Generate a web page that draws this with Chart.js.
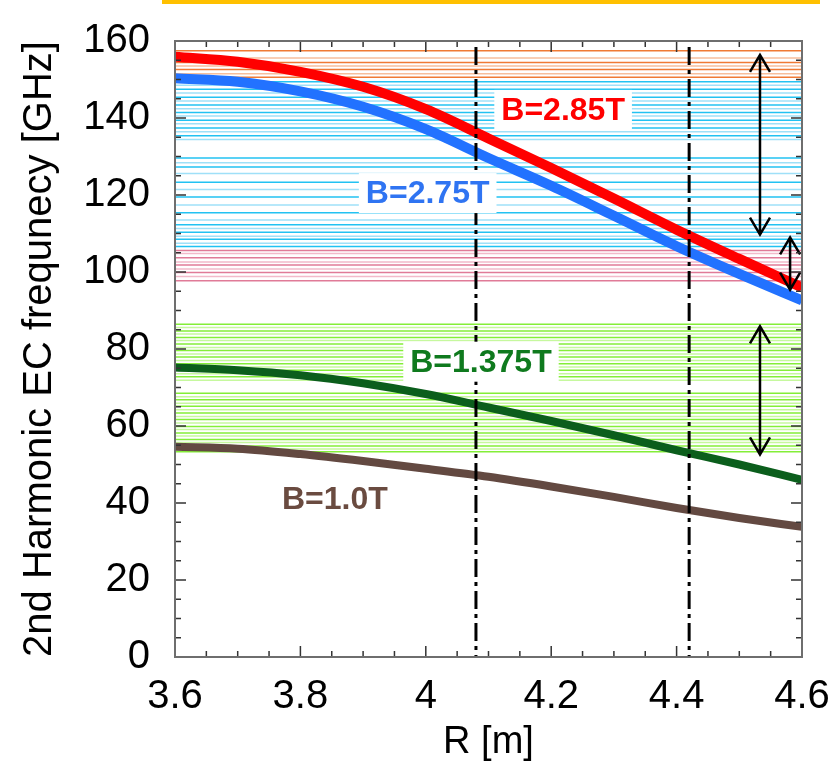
<!DOCTYPE html>
<html lang="en">
<head>
<meta charset="UTF-8">
<title>2nd Harmonic EC frequency</title>
<script src="https://cdn.jsdelivr.net/npm/chart.js"></script>
<style>
  body { margin: 0; background: #fff; }
  #wrap { position: relative; width: 838px; height: 767px; }
  #topBar { position: absolute; left: 162px; top: 0; width: 658px; height: 4px; background: #FFC000; }
</style>
</head>
<body>
<div id="wrap">
  <canvas id="ecChart" width="838" height="767"></canvas>
  <div id="topBar"></div>
</div>
<script>
// major radius [m]
const rValues = [3.6, 3.7, 3.8, 3.9, 4.0, 4.1, 4.2, 4.3, 4.4, 4.5, 4.6];
// 2nd harmonic EC frequency [GHz]
const freq285 = [155.9, 154.6, 152.0, 148.1, 142.3, 134.7, 127.0, 119.1, 111.0, 103.4, 96.0];
const freq275 = [150.3, 149.4, 146.9, 142.9, 137.1, 129.6, 122.4, 114.6, 106.7, 99.5, 92.6];
const freq1375 = [75.2, 74.5, 73.2, 71.1, 68.3, 64.8, 61.3, 57.6, 53.7, 50.0, 46.0];
const freq100 = [54.6, 54.1, 52.7, 50.9, 48.9, 46.8, 44.3, 41.6, 38.7, 36.1, 33.8];

const xTicks = [3.6, 3.8, 4.0, 4.2, 4.4, 4.6];
const yTicks = [0, 20, 40, 60, 80, 100, 120, 140, 160];

// source frequencies (horizontal lines), GHz
const orangeLines = [157.5, 155.6, 154.4, 153.5, 152.6, 151.5, 150.6];
const cyanLines = [149.4, 148.5, 147.5, 146.5, 145.4, 144.4, 143.4, 142.4, 141.4, 140.5, 139.4, 138.5,
  137.4, 136.4, 135.4, 134.4, 129.6, 128.4, 127.3, 125.6, 123.3, 121.4, 119.5, 117.4, 115.4, 113.5,
  112.3, 111.3, 110.3, 109.3, 108.5, 107.5, 106.6];
const pinkLines = [105.6, 104.8, 103.7, 102.6, 101.8, 100.8, 99.9, 98.8, 97.7];
const greenLines = [86.4, 85.6, 84.7, 83.9, 83.0, 82.2, 81.3, 80.4, 79.6, 78.7, 77.9, 77.0, 76.2, 75.3,
  74.5, 73.6, 72.8, 71.9, 68.5, 67.6, 66.8, 65.9, 65.1, 64.2, 63.4, 62.5, 61.7, 60.8, 59.9, 59.1,
  58.2, 57.4, 56.5, 55.7, 54.8, 54.0, 53.3];

// dash-dot markers (R) and double arrows [R, from GHz, to GHz]
const markerR = [4.08, 4.42];
const arrows = [[4.533, 156.4, 109.7], [4.581, 109.0, 95.4], [4.533, 85.9, 52.6]];

const bands = [
  { lines: orangeLines, dark: '#F07A35', light: '#F7BE9C' },
  { lines: cyanLines, dark: '#22C2F2', light: '#9FE0F8' },
  { lines: pinkLines, dark: '#E07B98', light: '#F2BACA' },
  { lines: greenLines, dark: '#84EE38', light: '#C6F89E' }
];

const labels = [
  { text: 'B=2.85T', r: 4.219, f: 142.1, color: '#FF0000' },
  { text: 'B=2.75T', r: 4.003, f: 120.5, color: '#2F74F2' },
  { text: 'B=1.375T', r: 4.088, f: 76.7, color: '#0F7A1E' },
  { text: 'B=1.0T', r: 3.855, f: 41.0, color: '#6A4B40' }
];

const FONT = "'Liberation Sans', Arial, sans-serif";

const overlay = {
  id: 'overlay',
  beforeDatasetsDraw(chart) {
    const { ctx, chartArea: a, scales: { y } } = chart;
    ctx.save();
    ctx.lineWidth = 1.5;
    bands.forEach(b => {
      b.lines.forEach((f, i) => {
        const py = y.getPixelForValue(f);
        ctx.strokeStyle = i % 2 ? b.light : b.dark;
        ctx.beginPath();
        ctx.moveTo(a.left, py);
        ctx.lineTo(a.right, py);
        ctx.stroke();
      });
    });
    ctx.restore();
  },
  afterDatasetsDraw(chart) {
    const { ctx, chartArea: a, scales: { x, y } } = chart;
    ctx.save();

    // dash-dot verticals
    ctx.strokeStyle = '#000';
    ctx.lineWidth = 3;
    ctx.setLineDash([18, 5, 4, 5]);
    markerR.forEach(r => {
      const px = x.getPixelForValue(r);
      ctx.beginPath();
      ctx.moveTo(px, a.top + 6);
      ctx.lineTo(px, a.bottom);
      ctx.stroke();
    });
    ctx.setLineDash([]);

    // labels on white boxes
    ctx.font = 'bold 32px ' + FONT;
    ctx.textAlign = 'center';
    ctx.textBaseline = 'middle';
    labels.forEach(l => {
      const px = x.getPixelForValue(l.r);
      const py = y.getPixelForValue(l.f);
      const w = ctx.measureText(l.text).width;
      ctx.fillStyle = '#fff';
      ctx.fillRect(px - w / 2 - 7, py - 20, w + 14, 40);
      ctx.fillStyle = l.color;
      ctx.fillText(l.text, px, py + 1);
    });

    // double arrows
    ctx.strokeStyle = '#000';
    ctx.lineWidth = 2.5;
    arrows.forEach(([r, f1, f2]) => {
      const px = x.getPixelForValue(r);
      const y1 = y.getPixelForValue(f1);
      const y2 = y.getPixelForValue(f2);
      ctx.beginPath();
      ctx.moveTo(px, y1);
      ctx.lineTo(px, y2);
      ctx.moveTo(px - 10, y1 + 17);
      ctx.lineTo(px, y1);
      ctx.lineTo(px + 10, y1 + 17);
      ctx.moveTo(px - 10, y2 - 17);
      ctx.lineTo(px, y2);
      ctx.lineTo(px + 10, y2 - 17);
      ctx.stroke();
    });

    // inward ticks on all four sides
    ctx.strokeStyle = '#333';
    ctx.lineWidth = 1.5;
    ctx.beginPath();
    for (let v = 0; v <= 160; v += 5) {
      const py = y.getPixelForValue(v);
      const len = v % 20 === 0 ? 11 : 6;
      ctx.moveTo(a.left, py); ctx.lineTo(a.left + len, py);
      ctx.moveTo(a.right, py); ctx.lineTo(a.right - len, py);
    }
    for (let i = 0; i <= 20; i++) {
      const px = x.getPixelForValue(3.6 + i * 0.05);
      const len = i % 4 === 0 ? 11 : 6;
      ctx.moveTo(px, a.bottom); ctx.lineTo(px, a.bottom - len);
      ctx.moveTo(px, a.top); ctx.lineTo(px, a.top + len);
    }
    ctx.stroke();

    // frame
    ctx.strokeStyle = '#6E6E6E';
    ctx.lineWidth = 2;
    ctx.strokeRect(a.left, a.top, a.right - a.left, a.bottom - a.top);
    ctx.restore();
  }
};

function series(vals) {
  return rValues.map((r, i) => ({ x: r, y: vals[i] }));
}

new Chart(document.getElementById('ecChart'), {
  type: 'line',
  data: {
    datasets: [
      { label: 'B=2.85T', data: series(freq285), borderColor: '#FF0000', borderWidth: 10 },
      { label: 'B=2.75T', data: series(freq275), borderColor: '#2272FF', borderWidth: 10 },
      { label: 'B=1.375T', data: series(freq1375), borderColor: '#0B5E1C', borderWidth: 8 },
      { label: 'B=1.0T', data: series(freq100), borderColor: '#634941', borderWidth: 8 }
    ]
  },
  options: {
    responsive: false,
    animation: false,
    layout: { padding: { top: 33, right: 36, bottom: 0, left: 0 } },
    elements: {
      point: { radius: 0 },
      line: { cubicInterpolationMode: 'monotone', borderCapStyle: 'butt', fill: false }
    },
    plugins: {
      legend: { display: false },
      tooltip: { enabled: false }
    },
    scales: {
      x: {
        type: 'linear',
        min: 3.6,
        max: 4.6,
        grid: { display: false },
        border: { display: false },
        afterBuildTicks: s => { s.ticks = xTicks.map(v => ({ value: v })); },
        afterFit: s => { s.height = 110; },
        ticks: {
          padding: 8,
          color: '#000',
          font: { family: FONT, size: 40 },
          maxRotation: 0,
          callback: v => String(+Number(v).toFixed(1))
        },
        title: {
          display: true,
          text: 'R [m]',
          color: '#000',
          font: { family: FONT, size: 38 },
          padding: { top: 0, bottom: 2 }
        }
      },
      y: {
        min: 0,
        max: 160,
        grid: { display: false },
        border: { display: false },
        afterBuildTicks: s => { s.ticks = yTicks.map(v => ({ value: v })); },
        afterFit: s => { s.width = 175; },
        ticks: {
          padding: 17,
          color: '#000',
          font: { family: FONT, size: 40 }
        },
        title: {
          display: true,
          text: '2nd Harmonic EC frequnecy [GHz]',
          color: '#000',
          font: { family: FONT, size: 40 },
          padding: { top: 16, bottom: 0 }
        }
      }
    }
  },
  plugins: [overlay]
});
</script>
</body>
</html>
